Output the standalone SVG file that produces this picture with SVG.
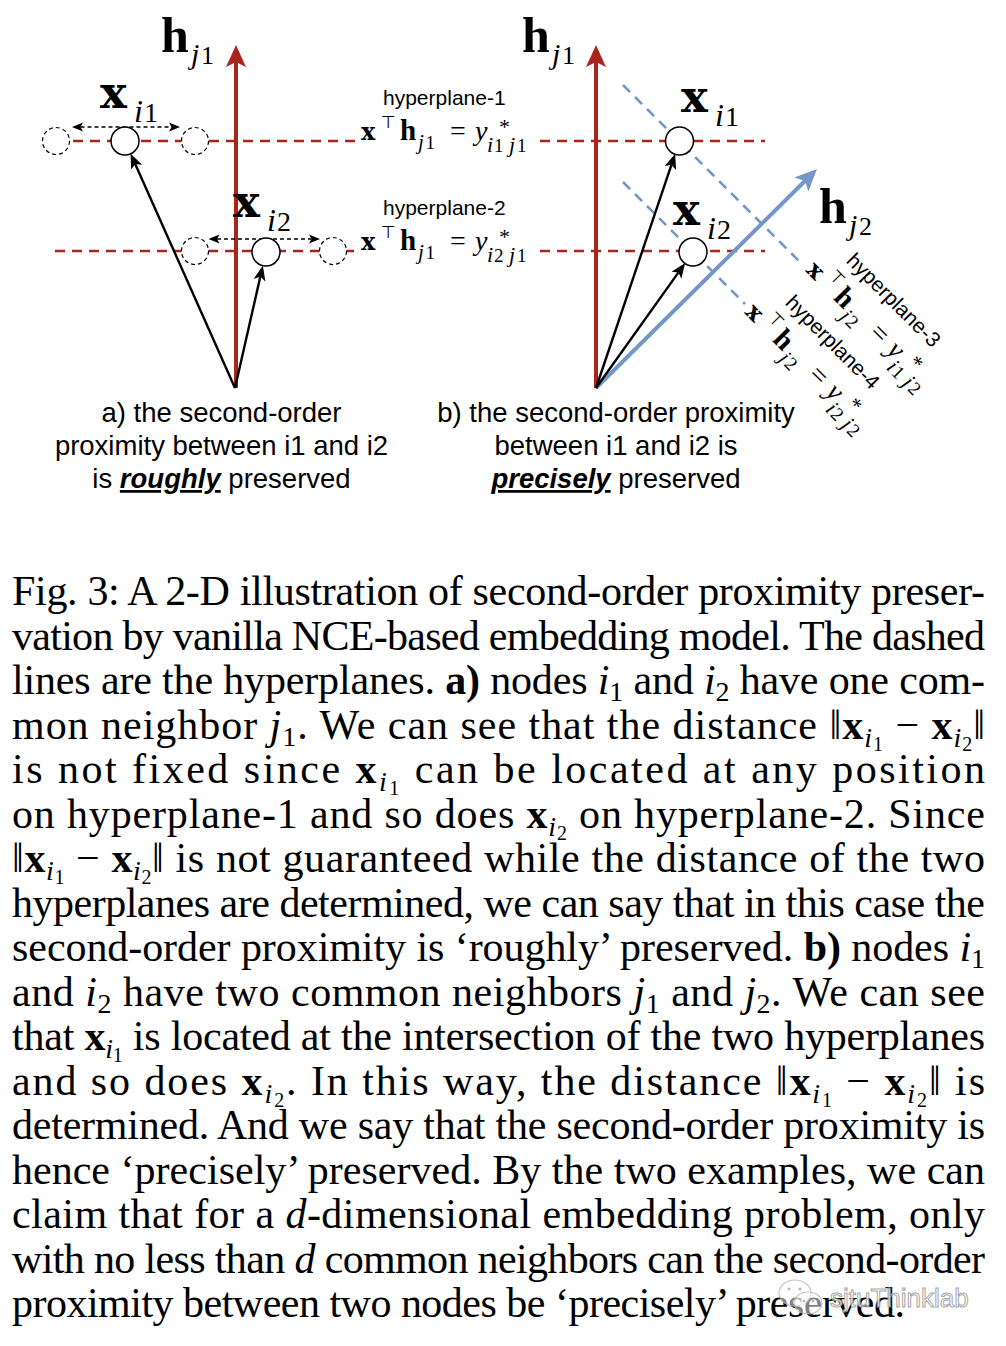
<svg xmlns="http://www.w3.org/2000/svg" width="1006" height="1346" viewBox="0 0 1006 1346">
<style>
.lab{font-family:"Liberation Sans",Arial,sans-serif;font-size:27.5px;fill:#000;text-anchor:middle}
.hp{font-family:"Liberation Sans",Arial,sans-serif;font-size:21px;fill:#000}
.cap{font-family:"Liberation Serif","DejaVu Serif",serif;font-size:42px;fill:#000}
.mb{font-family:"DejaVu Serif",serif;font-weight:bold;fill:#000}
.hb{font-family:"Liberation Serif",serif;font-weight:bold;fill:#000}
.it{font-family:"Liberation Serif",serif;font-style:italic;fill:#000}
.rm{font-family:"Liberation Serif",serif;fill:#000}
.tk{font-family:"DejaVu Sans",sans-serif;fill:#000}
.rdash{stroke:#a8241c;stroke-width:2.6;stroke-dasharray:10 7;fill:none}
.bdash{stroke:#7397c9;stroke-width:2.6;stroke-dasharray:10 7;fill:none}
.dc{fill:#fff;stroke:#000;stroke-width:1.2;stroke-dasharray:4 3}
.sc{fill:#fff;stroke:#000;stroke-width:1.5}
.blk{stroke:#000;stroke-width:2.4;fill:none}
.dot{stroke:#000;stroke-width:1.4;stroke-dasharray:4 3;fill:none}
</style>
<defs>
<marker id="ahRed" markerUnits="userSpaceOnUse" viewBox="0 -11 23 22" markerWidth="23" markerHeight="22" refX="5" refY="0" orient="auto"><path d="M0,-10 L22,0 L0,10 L5,0 z" fill="#a8241c"/></marker>
<marker id="ahBlue" markerUnits="userSpaceOnUse" viewBox="0 -11 23 22" markerWidth="23" markerHeight="22" refX="5" refY="0" orient="auto"><path d="M0,-10 L22,0 L0,10 L5,0 z" fill="#7397c9"/></marker>
<marker id="ahBlack" markerUnits="userSpaceOnUse" viewBox="0 -7 16 14" markerWidth="16" markerHeight="14" refX="3.5" refY="0" orient="auto"><path d="M0,-6 L15,0 L0,6 L3.5,0 z" fill="#000"/></marker>
<marker id="ahSmall" markerUnits="userSpaceOnUse" viewBox="0 -5 12 10" markerWidth="12" markerHeight="10" refX="2.5" refY="0" orient="auto-start-reverse"><path d="M0,-4.5 L11,0 L0,4.5 L2.5,0 z" fill="#000"/></marker>
</defs>
<rect width="1006" height="1346" fill="#fff"/>

<g id="connectors">
<line class="rdash" x1="56" y1="141" x2="358" y2="141"/>
<line class="rdash" x1="55" y1="251" x2="358" y2="251"/>
<line class="rdash" x1="540" y1="141" x2="765" y2="141"/>
<line class="rdash" x1="540" y1="251" x2="765" y2="251"/>
<line class="bdash" x1="623" y1="85" x2="800" y2="262"/>
<line class="bdash" x1="623" y1="182" x2="745" y2="304"/>
<line x1="236" y1="388" x2="236" y2="62" stroke="#a8241c" stroke-width="4" marker-end="url(#ahRed)"/>
<line x1="596" y1="388" x2="596" y2="62" stroke="#a8241c" stroke-width="4" marker-end="url(#ahRed)"/>
<line x1="596" y1="388" x2="804.9" y2="181" stroke="#7397c9" stroke-width="4" marker-end="url(#ahBlue)"/>
<line class="blk" x1="235" y1="388" x2="135.2" y2="163.9" marker-end="url(#ahBlack)"/>
<line class="blk" x1="235" y1="388" x2="260.3" y2="276.8" marker-end="url(#ahBlack)"/>
<line class="blk" x1="596" y1="388" x2="671.5" y2="164.7" marker-end="url(#ahBlack)"/>
<line class="blk" x1="596" y1="388" x2="678.5" y2="272.4" marker-end="url(#ahBlack)"/>
<line class="dot" x1="80.5" y1="127" x2="171.5" y2="127" marker-start="url(#ahSmall)" marker-end="url(#ahSmall)"/>
<line class="dot" x1="217" y1="239" x2="311.5" y2="239" marker-start="url(#ahSmall)" marker-end="url(#ahSmall)"/>
</g>

<g id="h_j1_a">
<text class="hb" x="161" y="52" font-size="50">h</text>
<text class="it" x="191" y="64" font-size="30">j</text>
<text class="rm" x="201" y="64" font-size="26">1</text>
</g>
<g id="h_j1_b">
<text class="hb" x="522" y="52" font-size="50">h</text>
<text class="it" x="552" y="64" font-size="30">j</text>
<text class="rm" x="562" y="64" font-size="26">1</text>
</g>
<g id="h_j2_b">
<text class="hb" x="819" y="223" font-size="50">h</text>
<text class="it" x="849" y="235" font-size="30">j</text>
<text class="rm" x="859" y="235" font-size="26">2</text>
</g>

<g id="x_i1_a">
<circle class="dc" cx="56" cy="141" r="13.5"/>
<circle class="dc" cx="195" cy="141" r="13.5"/>
<circle class="sc" cx="125" cy="141" r="14"/>
<text class="mb" x="100" y="108" font-size="45">x</text>
<text class="it" x="134" y="122" font-size="32">i</text>
<text class="rm" x="144" y="122" font-size="28">1</text>
</g>
<g id="x_i2_a">
<circle class="dc" cx="195" cy="251" r="13.5"/>
<circle class="dc" cx="333" cy="251" r="13.5"/>
<circle class="sc" cx="266" cy="252" r="14"/>
<text class="mb" x="233" y="217" font-size="45">x</text>
<text class="it" x="267" y="231" font-size="32">i</text>
<text class="rm" x="277" y="231" font-size="28">2</text>
</g>
<g id="x_i1_b">
<circle class="sc" cx="679.5" cy="141" r="14"/>
<text class="mb" x="681" y="112" font-size="45">x</text>
<text class="it" x="715" y="126" font-size="32">i</text>
<text class="rm" x="725" y="126" font-size="28">1</text>
</g>
<g id="x_i2_b">
<circle class="sc" cx="693" cy="252" r="14"/>
<text class="mb" x="673" y="225" font-size="45">x</text>
<text class="it" x="707" y="239" font-size="32">i</text>
<text class="rm" x="717" y="239" font-size="28">2</text>
</g>

<g id="hyperplane1" transform="translate(361,140)">
<text class="hp" x="22" y="-35">hyperplane-1</text>
<text class="mb" x="0" y="0" font-size="24">x</text>
<text class="tk" x="20" y="-12" font-size="17">⊤</text>
<text class="hb" x="39" y="0" font-size="29">h</text>
<text class="it" x="57" y="9" font-size="21">j</text>
<text class="rm" x="64.5" y="9" font-size="19">1</text>
<text class="rm" x="89" y="0" font-size="28">=</text>
<text class="it" x="114" y="0" font-size="28">y</text>
<text class="rm" x="138" y="-6" font-size="22">*</text>
<text class="it" x="126" y="12" font-size="22">i</text>
<text class="rm" x="133" y="12" font-size="19">1</text>
<text class="it" x="148" y="12" font-size="22">j</text>
<text class="rm" x="156" y="12" font-size="19">1</text>
</g>
<g id="hyperplane2" transform="translate(361,250)">
<text class="hp" x="22" y="-35">hyperplane-2</text>
<text class="mb" x="0" y="0" font-size="24">x</text>
<text class="tk" x="20" y="-12" font-size="17">⊤</text>
<text class="hb" x="39" y="0" font-size="29">h</text>
<text class="it" x="57" y="9" font-size="21">j</text>
<text class="rm" x="64.5" y="9" font-size="19">1</text>
<text class="rm" x="89" y="0" font-size="28">=</text>
<text class="it" x="114" y="0" font-size="28">y</text>
<text class="rm" x="138" y="-6" font-size="22">*</text>
<text class="it" x="126" y="12" font-size="22">i</text>
<text class="rm" x="133" y="12" font-size="19">2</text>
<text class="it" x="148" y="12" font-size="22">j</text>
<text class="rm" x="156" y="12" font-size="19">1</text>
</g>
<g id="hyperplane3" transform="translate(805,271) rotate(45)">
<text class="hp" x="22" y="-35">hyperplane-3</text>
<text class="mb" x="0" y="0" font-size="24">x</text>
<text class="tk" x="20" y="-12" font-size="17">⊤</text>
<text class="hb" x="39" y="0" font-size="29">h</text>
<text class="it" x="57" y="9" font-size="21">j</text>
<text class="rm" x="64.5" y="9" font-size="19">2</text>
<text class="rm" x="89" y="0" font-size="28">=</text>
<text class="it" x="114" y="0" font-size="28">y</text>
<text class="rm" x="138" y="-6" font-size="22">*</text>
<text class="it" x="126" y="12" font-size="22">i</text>
<text class="rm" x="133" y="12" font-size="19">1</text>
<text class="it" x="148" y="12" font-size="22">j</text>
<text class="rm" x="156" y="12" font-size="19">2</text>
</g>
<g id="hyperplane4" transform="translate(744,313) rotate(45)">
<text class="hp" x="22" y="-35">hyperplane-4</text>
<text class="mb" x="0" y="0" font-size="24">x</text>
<text class="tk" x="20" y="-12" font-size="17">⊤</text>
<text class="hb" x="39" y="0" font-size="29">h</text>
<text class="it" x="57" y="9" font-size="21">j</text>
<text class="rm" x="64.5" y="9" font-size="19">2</text>
<text class="rm" x="89" y="0" font-size="28">=</text>
<text class="it" x="114" y="0" font-size="28">y</text>
<text class="rm" x="138" y="-6" font-size="22">*</text>
<text class="it" x="126" y="12" font-size="22">i</text>
<text class="rm" x="133" y="12" font-size="19">2</text>
<text class="it" x="148" y="12" font-size="22">j</text>
<text class="rm" x="156" y="12" font-size="19">2</text>
</g>

<g id="label_a">
<text class="lab" x="221.5" y="422">a) the second-order</text>
<text class="lab" x="221.5" y="455">proximity between i1 and i2</text>
<text class="lab" x="221.5" y="488">is <tspan font-weight="bold" font-style="italic" text-decoration="underline">roughly</tspan> preserved</text>
</g>
<g id="label_b">
<text class="lab" x="616" y="422">b) the second-order proximity</text>
<text class="lab" x="616" y="455">between i1 and i2 is</text>
<text class="lab" x="616" y="488"><tspan font-weight="bold" font-style="italic" text-decoration="underline">precisely</tspan> preserved</text>
</g>

<g id="caption">
<text class="cap" x="12" y="605" textLength="973" lengthAdjust="spacing">Fig. 3: A 2-D illustration of second-order proximity preser-</text>
<text class="cap" x="12" y="649.5" textLength="973" lengthAdjust="spacing">vation by vanilla NCE-based embedding model. The dashed</text>
<text class="cap" x="12" y="694" textLength="973" lengthAdjust="spacing">lines are the hyperplanes. <tspan font-weight="bold">a)</tspan> nodes <tspan font-style="italic">i</tspan><tspan font-size="28" dy="7">1</tspan><tspan dy="-7"> and </tspan><tspan font-style="italic">i</tspan><tspan font-size="28" dy="7">2</tspan><tspan dy="-7"> have one com-</tspan></text>
<text class="cap" x="12" y="738.5" textLength="973" lengthAdjust="spacing">mon neighbor <tspan font-style="italic">j</tspan><tspan font-size="28" dy="7">1</tspan><tspan dy="-7">. We can see that the distance ‖</tspan><tspan font-weight="bold">x</tspan><tspan font-style="italic" font-size="28" dy="8">i</tspan><tspan font-size="20" dy="4">1</tspan><tspan dy="-12"> − </tspan><tspan font-weight="bold">x</tspan><tspan font-style="italic" font-size="28" dy="8">i</tspan><tspan font-size="20" dy="4">2</tspan><tspan dy="-12">‖</tspan></text>
<text class="cap" x="12" y="783" textLength="973" lengthAdjust="spacing">is not fixed since <tspan font-weight="bold">x</tspan><tspan font-style="italic" font-size="28" dy="8">i</tspan><tspan font-size="20" dy="4">1</tspan><tspan dy="-12"> can be located at any position</tspan></text>
<text class="cap" x="12" y="827.5" textLength="973" lengthAdjust="spacing">on hyperplane-1 and so does <tspan font-weight="bold">x</tspan><tspan font-style="italic" font-size="28" dy="8">i</tspan><tspan font-size="20" dy="4">2</tspan><tspan dy="-12"> on hyperplane-2. Since</tspan></text>
<text class="cap" x="12" y="872" textLength="973" lengthAdjust="spacing">‖<tspan font-weight="bold">x</tspan><tspan font-style="italic" font-size="28" dy="8">i</tspan><tspan font-size="20" dy="4">1</tspan><tspan dy="-12"> − </tspan><tspan font-weight="bold">x</tspan><tspan font-style="italic" font-size="28" dy="8">i</tspan><tspan font-size="20" dy="4">2</tspan><tspan dy="-12">‖ is not guaranteed while the distance of the two</tspan></text>
<text class="cap" x="12" y="916.5" textLength="973" lengthAdjust="spacing">hyperplanes are determined, we can say that in this case the</text>
<text class="cap" x="12" y="961" textLength="973" lengthAdjust="spacing">second-order proximity is ‘roughly’ preserved. <tspan font-weight="bold">b)</tspan> nodes <tspan font-style="italic">i</tspan><tspan font-size="28" dy="7">1</tspan></text>
<text class="cap" x="12" y="1005.5" textLength="973" lengthAdjust="spacing">and <tspan font-style="italic">i</tspan><tspan font-size="28" dy="7">2</tspan><tspan dy="-7"> have two common neighbors </tspan><tspan font-style="italic">j</tspan><tspan font-size="28" dy="7">1</tspan><tspan dy="-7"> and </tspan><tspan font-style="italic">j</tspan><tspan font-size="28" dy="7">2</tspan><tspan dy="-7">. We can see</tspan></text>
<text class="cap" x="12" y="1050" textLength="973" lengthAdjust="spacing">that <tspan font-weight="bold">x</tspan><tspan font-style="italic" font-size="28" dy="8">i</tspan><tspan font-size="20" dy="4">1</tspan><tspan dy="-12"> is located at the intersection of the two hyperplanes</tspan></text>
<text class="cap" x="12" y="1094.5" textLength="973" lengthAdjust="spacing">and so does <tspan font-weight="bold">x</tspan><tspan font-style="italic" font-size="28" dy="8">i</tspan><tspan font-size="20" dy="4">2</tspan><tspan dy="-12">. In this way, the distance ‖</tspan><tspan font-weight="bold">x</tspan><tspan font-style="italic" font-size="28" dy="8">i</tspan><tspan font-size="20" dy="4">1</tspan><tspan dy="-12"> − </tspan><tspan font-weight="bold">x</tspan><tspan font-style="italic" font-size="28" dy="8">i</tspan><tspan font-size="20" dy="4">2</tspan><tspan dy="-12">‖ is</tspan></text>
<text class="cap" x="12" y="1139" textLength="973" lengthAdjust="spacing">determined. And we say that the second-order proximity is</text>
<text class="cap" x="12" y="1183.5" textLength="973" lengthAdjust="spacing">hence ‘precisely’ preserved. By the two examples, we can</text>
<text class="cap" x="12" y="1228" textLength="973" lengthAdjust="spacing">claim that for a <tspan font-style="italic">d</tspan>-dimensional embedding problem, only</text>
<text class="cap" x="12" y="1272.5" textLength="973" lengthAdjust="spacing">with no less than <tspan font-style="italic">d</tspan> common neighbors can the second-order</text>
<text class="cap" x="12" y="1317" textLength="893" lengthAdjust="spacing">proximity between two nodes be ‘precisely’ preserved.</text>
</g>

<g id="watermark" opacity="0.85">
<ellipse cx="795" cy="1293" rx="16" ry="13" fill="#fff" fill-opacity="0.6" stroke="#bbb" stroke-width="1.2"/>
<ellipse cx="808" cy="1303" rx="14" ry="11" fill="#fff" fill-opacity="0.6" stroke="#bbb" stroke-width="1.2"/>
<circle cx="789" cy="1289" r="1.5" fill="#aaa"/>
<circle cx="800" cy="1289" r="1.5" fill="#aaa"/>
<circle cx="804" cy="1301" r="1.3" fill="#aaa"/>
<circle cx="813" cy="1301" r="1.3" fill="#aaa"/>
<text x="830" y="1307" font-family="Liberation Sans, Arial, sans-serif" font-size="26" fill="#fff" stroke="#999" stroke-width="1">sjtuThinklab</text>
</g>
</svg>
